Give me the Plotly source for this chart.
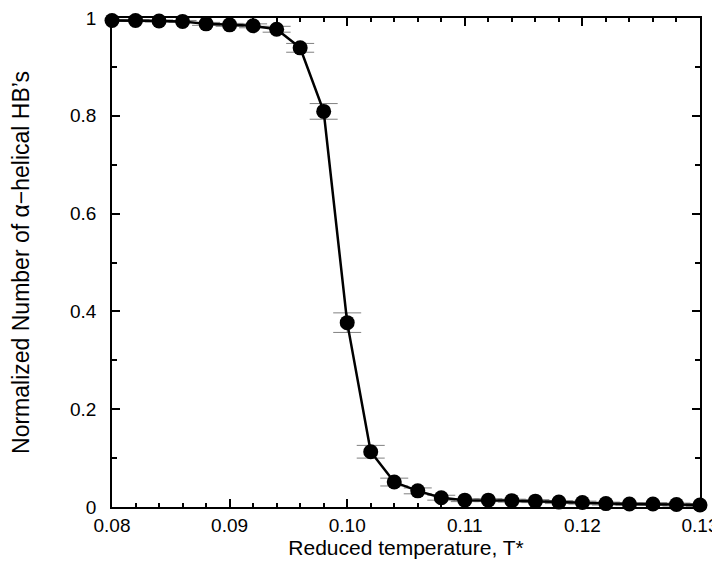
import plotly.graph_objects as go

# reduced temperature and normalized helical HB count
temps = [0.080, 0.082, 0.084, 0.086, 0.088, 0.090, 0.092, 0.094, 0.096, 0.098,
         0.100, 0.102, 0.104, 0.106, 0.108, 0.110, 0.112, 0.114, 0.116, 0.118,
         0.120, 0.122, 0.124, 0.126, 0.128, 0.130]
hb_frac = [0.995, 0.995, 0.994, 0.993, 0.988, 0.986, 0.984, 0.977, 0.939, 0.809,
           0.377, 0.113, 0.051, 0.033, 0.019, 0.014, 0.014, 0.013, 0.012, 0.010,
           0.009, 0.007, 0.006, 0.006, 0.005, 0.004]
hb_err = [0.002, 0.002, 0.002, 0.002, 0.003, 0.003, 0.004, 0.006, 0.009, 0.016,
          0.020, 0.013, 0.008, 0.006, 0.005, 0.003, 0.003, 0.003, 0.003, 0.003,
          0.003, 0.003, 0.003, 0.003, 0.003, 0.003]

x_ticks = [0.08, 0.09, 0.10, 0.11, 0.12, 0.13]
y_ticks = [0, 0.2, 0.4, 0.6, 0.8, 1]

fig = go.Figure()
fig.add_trace(go.Scatter(
    x=temps, y=hb_frac,
    mode='lines+markers',
    line=dict(color='black', width=2.5),
    marker=dict(size=15, color='black'),
    error_y=dict(type='data', array=hb_err, visible=True,
                 color='#808080', thickness=1, width=14),
    cliponaxis=False,
    showlegend=False
))

axis_common = dict(
    showgrid=False, zeroline=False,
    showline=True, linecolor='black', linewidth=1.5,
    mirror='ticks', ticks='inside', ticklen=8, tickwidth=1.5, tickcolor='black',
    tickfont=dict(family='Liberation Sans, Arial, sans-serif', size=19, color='black'),
    ticklabeloverflow='allow',
)

# the page body adds an 8px offset, so margins are shifted to compensate
fig.update_layout(
    width=720, height=565,
    margin=dict(l=93, r=28, t=0, b=66),
    paper_bgcolor='white', plot_bgcolor='white',
    font=dict(family='Liberation Sans, Arial, sans-serif', color='black'),
    xaxis=dict(
        range=[0.08, 0.13], tickvals=x_ticks, tickformat='.2f',
        minor=dict(dtick=0.002, ticks='inside', ticklen=4, tickwidth=1.5, tickcolor='black'),
        title=dict(text='Reduced temperature, T*', font=dict(size=21), standoff=0),
        ticklabelstandoff=0,
        **axis_common
    ),
    yaxis=dict(
        range=[0, 1], tickvals=y_ticks,
        minor=dict(dtick=0.1, ticks='inside', ticklen=5, tickwidth=1.5, tickcolor='black'),
        title=dict(text='Normalized Number of α−helical HB’s', font=dict(size=23), standoff=46),
        ticklabelstandoff=10,
        **axis_common
    ),
)

fig.write_html("out.html")
